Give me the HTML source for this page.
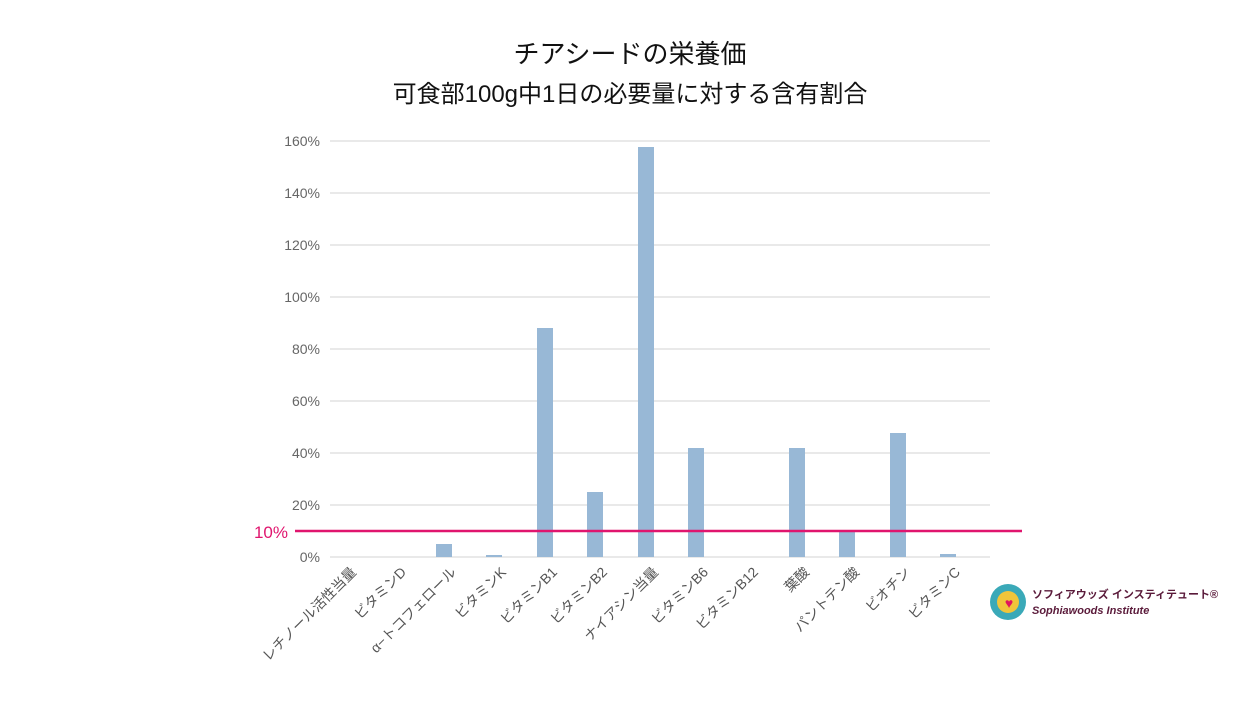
<!DOCTYPE html><html><head><meta charset="utf-8"><style>body{margin:0;background:#fff}svg{display:block}text{font-family:"Liberation Sans","Noto Sans CJK JP",sans-serif}</style></head><body>
<svg width="1260" height="709" viewBox="0 0 1260 709">
<text x="630" y="63" text-anchor="middle" font-size="26" fill="#111">チアシードの栄養価</text>
<text x="630" y="102" text-anchor="middle" font-size="24" fill="#111">可食部100g中1日の必要量に対する含有割合</text>
<g stroke="#dcdcdc" stroke-width="1.2">
<line x1="330" x2="990" y1="141" y2="141"/><line x1="330" x2="990" y1="193" y2="193"/><line x1="330" x2="990" y1="245" y2="245"/><line x1="330" x2="990" y1="297" y2="297"/><line x1="330" x2="990" y1="349" y2="349"/><line x1="330" x2="990" y1="401" y2="401"/><line x1="330" x2="990" y1="453" y2="453"/><line x1="330" x2="990" y1="505" y2="505"/><line x1="330" x2="990" y1="557" y2="557"/></g>
<g font-size="14" fill="#666" text-anchor="end">
<text x="320" y="146">160%</text><text x="320" y="198">140%</text><text x="320" y="250">120%</text><text x="320" y="302">100%</text><text x="320" y="354">80%</text><text x="320" y="406">60%</text><text x="320" y="458">40%</text><text x="320" y="510">20%</text><text x="320" y="562">0%</text></g>
<g fill="#98b8d6">
<rect x="436" y="544" width="16" height="13"/><rect x="486" y="555" width="16" height="2"/><rect x="537" y="328" width="16" height="229"/><rect x="587" y="492" width="16" height="65"/><rect x="638" y="147" width="16" height="410"/><rect x="688" y="448" width="16" height="109"/><rect x="789" y="448" width="16" height="109"/><rect x="839" y="531" width="16" height="26"/><rect x="890" y="433" width="16" height="124"/><rect x="940" y="554" width="16" height="3"/></g>
<line x1="295" x2="1022" y1="531" y2="531" stroke="#e0156e" stroke-width="2.5"/>
<text x="288" y="538" text-anchor="end" font-size="17" fill="#e0156e">10%</text>
<g font-size="14" fill="#555" text-anchor="end">
<text transform="translate(357,573) rotate(-45)">レチノール活性当量</text>
<text transform="translate(407,573) rotate(-45)">ビタミンD</text>
<text transform="translate(457,573) rotate(-45)">α−トコフェロール</text>
<text transform="translate(507,573) rotate(-45)">ビタミンK</text>
<text transform="translate(558,573) rotate(-45)">ビタミンB1</text>
<text transform="translate(608,573) rotate(-45)">ビタミンB2</text>
<text transform="translate(659,573) rotate(-45)">ナイアシン当量</text>
<text transform="translate(709,573) rotate(-45)">ビタミンB6</text>
<text transform="translate(759,573) rotate(-45)">ビタミンB12</text>
<text transform="translate(810,573) rotate(-45)">葉酸</text>
<text transform="translate(860,573) rotate(-45)">パントテン酸</text>
<text transform="translate(911,573) rotate(-45)">ビオチン</text>
<text transform="translate(961,573) rotate(-45)">ビタミンC</text></g>
<circle cx="1008" cy="602" r="18" fill="#3aa9b8"/><circle cx="1008" cy="602" r="11" fill="#f0c53a"/>
<text x="1009" y="608" text-anchor="middle" font-size="14" fill="#e0155e">♥</text>
<text x="1032" y="598" font-size="11" font-weight="bold" fill="#5a1a3a">ソフィアウッズ インスティテュート®</text>
<text x="1032" y="614" font-size="11" font-weight="bold" font-style="italic" fill="#5a1a3a">Sophiawoods Institute</text>
</svg></body></html>
